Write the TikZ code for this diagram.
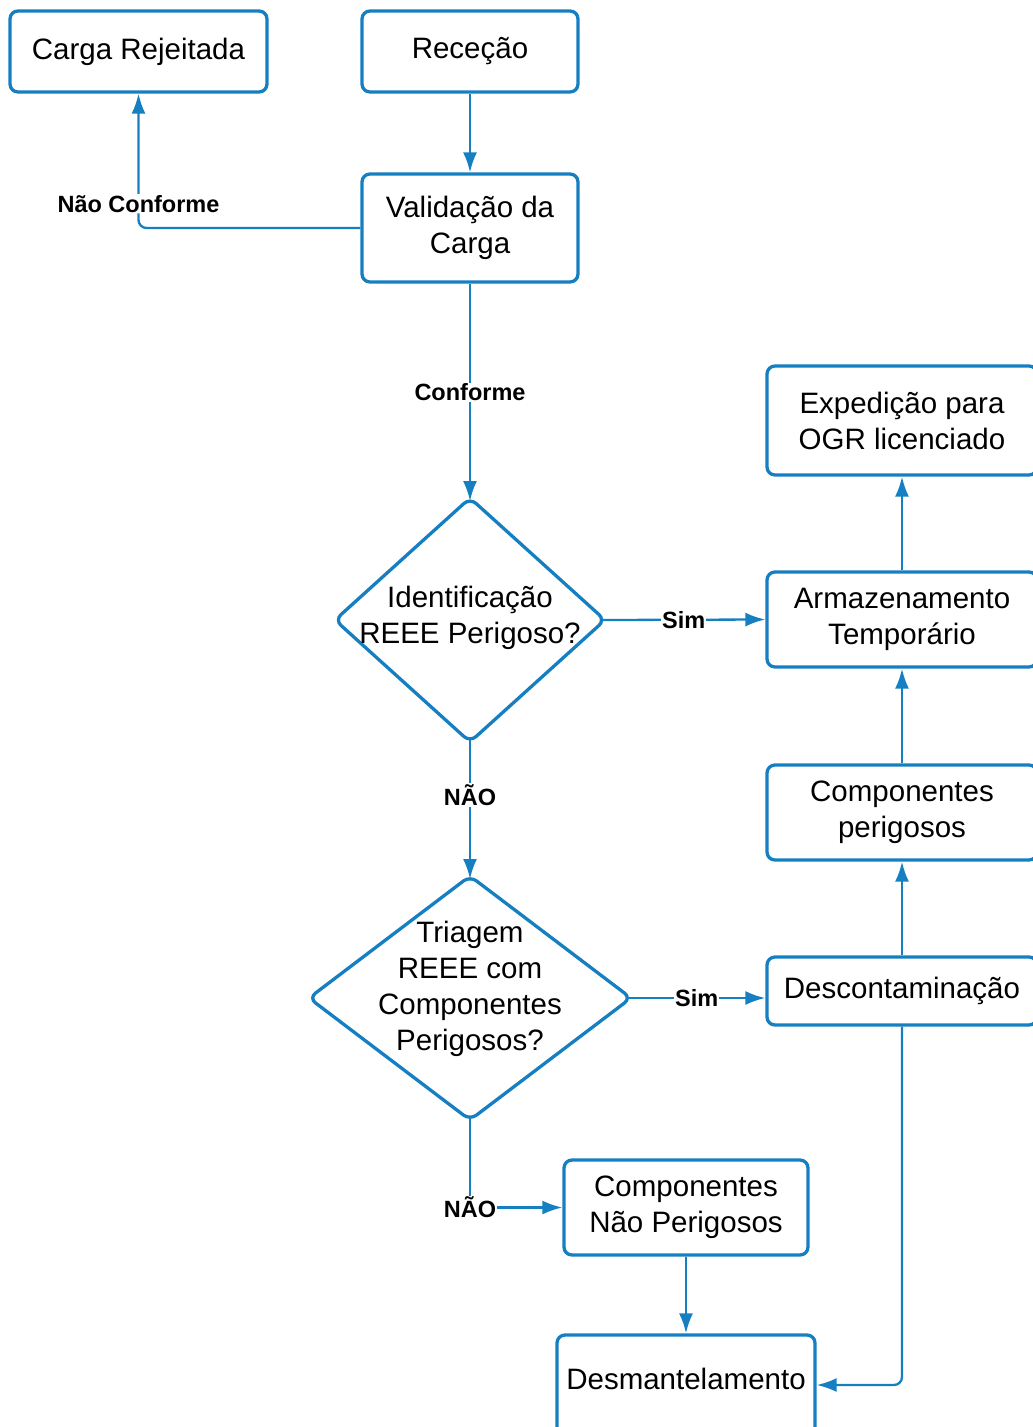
\documentclass[tikz,border=0pt]{standalone}
\usepackage{fontspec}
\setmainfont{Liberation Sans}
\usepackage{tikz}
\usetikzlibrary{shapes.geometric,arrows.meta}
\definecolor{flowblue}{RGB}{22,127,193}
\tikzset{
  box/.style={draw=flowblue,line width=3.3pt,rounded corners=8pt,fill=white,
    align=center,inner sep=0pt,font=\fontsize{29.5}{36}\selectfont},
  decision/.style={draw=flowblue,line width=3.3pt,diamond,rounded corners=8pt,
    inner sep=0pt,outer sep=0pt,label distance=0pt},
  conn/.style={draw=flowblue,line width=2.3pt,-{Latex[length=20pt,width=14pt]}},
  lab/.style={fill=white,inner sep=1pt,font=\fontsize{23.5}{28}\selectfont\bfseries}
}
\begin{document}
\begin{tikzpicture}[x=1pt,y=-1pt]
\useasboundingbox (0,0) rectangle (1033,1427);

\node[box,minimum width=257pt,minimum height=81pt] (rej) at (138.5,51.5) {Carga Rejeitada};
\node[box,minimum width=216pt,minimum height=81pt] (rec) at (470,51.5) {Receção};
\node[box,minimum width=216pt,minimum height=108pt] (val) at (470,228) {Validação da\\Carga};
\node[decision,minimum width=270pt,minimum height=244pt,
  label={[align=center,font=\fontsize{29.5}{36}\selectfont,yshift=2pt]center:Identificação\\REEE Perigoso?}] (ident) at (470,620) {};
\node[decision,minimum width=322pt,minimum height=244pt,
  label={[align=center,font=\fontsize{29.5}{36}\selectfont,yshift=9pt]center:Triagem\\REEE com\\Componentes\\Perigosos?}] (triag) at (470,998) {};

\node[box,minimum width=270pt,minimum height=109pt] (exped) at (902,420.5) {Expedição para\\OGR licenciado};
\node[box,minimum width=270pt,minimum height=95pt] (armaz) at (902,619.5) {Armazenamento\\Temporário};
\node[box,minimum width=270pt,minimum height=95pt] (compper) at (902,812.5) {Componentes\\perigosos};
\node[box,minimum width=270pt,minimum height=68pt] (descont) at (902,991) {Descontaminação};
\node[box,minimum width=244pt,minimum height=95pt] (compnper) at (686,1207.5) {Componentes\\Não Perigosos};
\node[box,minimum width=258pt,minimum height=100pt,text depth=12pt] (desmant) at (686,1385) {Desmantelamento};

% fluxo principal
\draw[conn] (rec) -- (val);
\draw[conn,rounded corners=8pt] (val.west) -| node[lab,pos=0.59] {Não Conforme} (rej.south);
\draw[conn] (val) -- node[lab] {Conforme} ([yshift=-3pt]ident.north);
\draw[conn] ([xshift=-3pt]ident.east) -- node[lab] {Sim} (armaz.west);
\draw[conn] ([yshift=3pt]ident.south) -- node[lab,pos=0.4] {NÃO} ([yshift=-3pt]triag.north);
\draw[conn] ([xshift=-3pt]triag.east) -- node[lab] {Sim} (triag.east -| descont.west);
\draw[conn] ([yshift=3pt]triag.south) |- node[lab,pos=0.5] {NÃO} (compnper.west);
\draw[conn] (compnper) -- (desmant);

% ramo perigoso
\draw[conn] (descont) -- (compper);
\draw[conn] (compper) -- (armaz);
\draw[conn] (armaz) -- (exped);
\draw[conn,rounded corners=8pt] (descont.south) |- (desmant.east);
\end{tikzpicture}
\end{document}
